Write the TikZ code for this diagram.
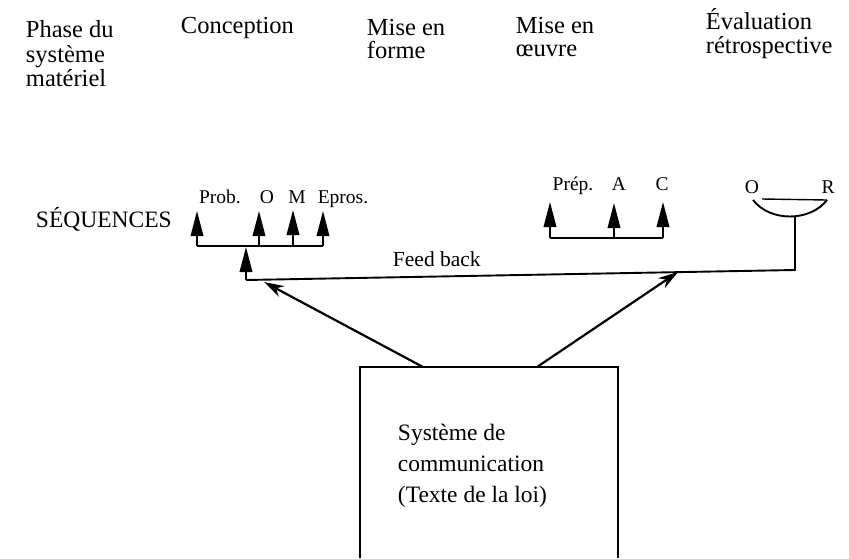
\documentclass[tikz,border=0pt]{standalone}
\usepackage{fontspec}
\setmainfont{Liberation Serif}
\usetikzlibrary{arrows.meta}
\begin{document}
\begin{tikzpicture}[x=1pt,y=-1pt,
  line width=1.9pt,
  hdr/.style={anchor=base west, inner sep=0pt, font=\fontsize{24.5}{25}\selectfont},
  lbl/.style={anchor=base, inner sep=0pt, font=\fontsize{19.5}{20}\selectfont},
  tree/.style={-{Triangle[length=25pt,width=12.5pt]}, line width=1.9pt},
  big/.style={-{Stealth[length=20pt,width=12pt]}, line width=2.2pt},
  body/.style={anchor=base west, inner sep=0pt, font=\fontsize{23.5}{24}\selectfont}]
\useasboundingbox (0,0) rectangle (849,558);

% headers
\node[hdr] (h1a) at (25,37) {Phase du};
\node[hdr] (h1b) at (25,62) {système};
\node[hdr] (h1c) at (25,86) {matériel};
\node[hdr] (h2) at (180,33) {Conception};
\node[hdr] (h3a) at (366,35) {Mise en};
\node[hdr] (h3b) at (366,58) {forme};
\node[hdr] (h4a) at (515,33) {Mise en};
\node[hdr] (h4b) at (515,56) {œuvre};
\node[hdr] (h5a) at (705,29) {Évaluation};
\node[hdr] (h5b) at (705,53) {rétrospective};

\node[anchor=base west, inner sep=0pt, font=\fontsize{23.5}{24}\selectfont] (seq) at (35,227) {SÉQUENCES};

% conception group
\coordinate (cb1) at (197,246);
\coordinate (cb2) at (259,246);
\coordinate (cb3) at (293,246);
\coordinate (cb4) at (323,246);
\coordinate (ct1) at (197,211);
\coordinate (ct2) at (259,211);
\coordinate (ct3) at (293,210);
\coordinate (ct4) at (323,211);
\draw (cb1) -- (cb4);
\draw[tree] (cb1) -- (ct1);
\draw[tree] (cb2) -- (ct2);
\draw[tree] (cb3) -- (ct3);
\draw[tree] (cb4) -- (ct4);
\node[lbl] (lprob) at (220,203) {Prob.};
\node[lbl] (lo1) at (267,203) {O};
\node[lbl] (lm) at (297,203) {M};
\node[lbl] (lepros) at (343,203) {Epros.};

% feedback line
\coordinate (fbL) at (246,280);
\coordinate (cmid) at (246,247);
\coordinate (fbR) at (795,270);
\coordinate (arcB) at (795,217);
\draw[tree] (fbL) -- (cmid);
\draw (fbL) -- (fbR) -- (arcB);
\node[anchor=base west, inner sep=0pt, font=\fontsize{21.5}{22}\selectfont] (fb) at (392,266) {Feed back};

% mise en oeuvre group
\coordinate (mb1) at (550,238);
\coordinate (mb2) at (614,238);
\coordinate (mb3) at (663,238);
\coordinate (mt1) at (550,202);
\coordinate (mt2) at (614,203);
\coordinate (mt3) at (663,202);
\draw (mb1) -- (mb3);
\draw[tree] (mb1) -- (mt1);
\draw[tree] (mb2) -- (mt2);
\draw[tree] (mb3) -- (mt3);
\node[lbl] (lprep) at (573,190) {Prép.};
\node[lbl] (la) at (619,190) {A};
\node[lbl] (lc) at (662,190) {C};

% evaluation
\coordinate (arcL) at (753,200);
\coordinate (arcR) at (827,200);
\coordinate (chL) at (762,199);
\draw (arcL) .. controls (770,222) and (810,222) .. (arcR);
\draw[line width=1.4pt] (chL) -- (arcR);
\node[lbl] (lo2) at (752,193) {O};
\node[lbl] (lr) at (828,193) {R};

% box
\coordinate (bBL) at (360,558);
\coordinate (bTL) at (360,367);
\coordinate (bTR) at (618,367);
\coordinate (bBR) at (618,558);
\draw (bBL) -- (bTL) -- (bTR) -- (bBR);
\node[body] (t1) at (397,440) {Système de};
\node[body] (t2) at (397,471) {communication};
\node[body] (t3) at (397,502) {(Texte de la loi)};

% big arrows
\coordinate (aL) at (423,367);
\coordinate (aR) at (537,367);
\coordinate (tipL) at (264,282);
\coordinate (tipR) at (678,272);
\draw[big] (aL) -- (tipL);
\draw[big] (aR) -- (tipR);
\end{tikzpicture}
\end{document}
